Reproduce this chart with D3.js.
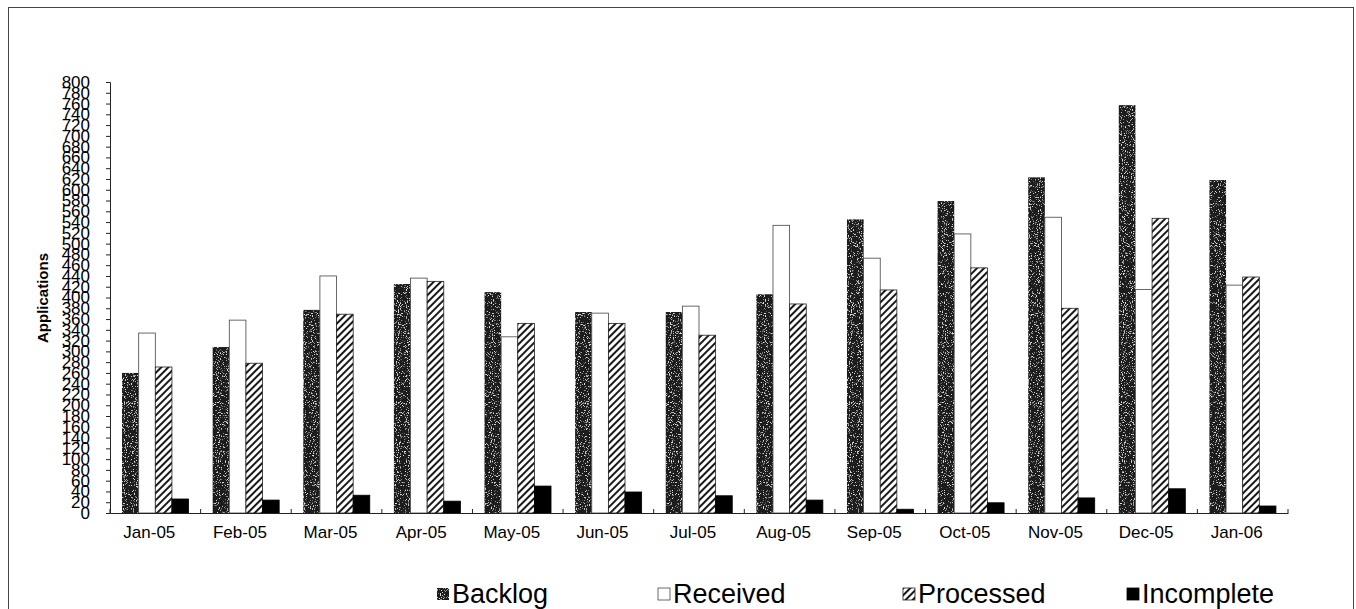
<!DOCTYPE html>
<html>
<head>
<meta charset="utf-8">
<script src="https://cdn.jsdelivr.net/npm/d3@7"></script>
<style>
  html, body { margin: 0; padding: 0; background: #fff; }
  svg { display: block; font-family: Arial, "Liberation Sans", sans-serif; }
</style>
</head>
<body>
<svg id="chart" width="1356" height="609"></svg>
<script>
// ---- data ----
const categories = ["Jan-05","Feb-05","Mar-05","Apr-05","May-05","Jun-05","Jul-05","Aug-05","Sep-05","Oct-05","Nov-05","Dec-05","Jan-06"];
const seriesNames = ["Backlog","Received","Processed","Incomplete"];
const backlog    = [260, 308, 377, 425, 410, 373, 373, 406, 545, 579, 623, 757, 618];
const received   = [334, 358, 440, 436, 327, 371, 384, 534, 473, 518, 549, 415, 423];
const processed  = [271, 278, 369, 430, 352, 352, 330, 388, 414, 455, 380, 547, 438];
const incomplete = [ 26,  24,  33,  22,  50,  39,  32,  24,   7,  19,  28,  45,  13];
const yTicks = d3.range(0, 801, 20);

const seriesValues = [backlog, received, processed, incomplete];

const svg = d3.select("#chart");
const defs = svg.append("defs");

// stipple (noise) filter for Backlog
const nf = defs.append("filter").attr("id","fNoise")
  .attr("x","0").attr("y","0").attr("width","100%").attr("height","100%");
nf.append("feTurbulence").attr("type","fractalNoise").attr("baseFrequency","0.9")
  .attr("numOctaves","2").attr("seed","4").attr("result","n");
nf.append("feColorMatrix").attr("in","n").attr("type","matrix")
  .attr("values","0 0 0 0 0.75  0 0 0 0 0.75  0 0 0 0 0.75  7 0 0 0 -4.1").attr("result","speck");
nf.append("feComposite").attr("in","speck").attr("in2","SourceGraphic").attr("operator","in").attr("result","sp2");
const nm = nf.append("feMerge");
nm.append("feMergeNode").attr("in","SourceGraphic");
nm.append("feMergeNode").attr("in","sp2");

// hatch pattern for Processed
const hatch = defs.append("pattern").attr("id","pProcessed").attr("patternUnits","userSpaceOnUse")
  .attr("width",5).attr("height",5).attr("patternTransform","rotate(45)");
hatch.append("rect").attr("width",5).attr("height",5).attr("fill","#fff");
hatch.append("line").attr("x1",1).attr("y1",0).attr("x2",1).attr("y2",5)
  .attr("stroke","#000").attr("stroke-width",1.8);

const fills = ["#1a1a1a","#ffffff","url(#pProcessed)","#000000"];
const strokes = ["none","#444","#222","#000"];
const filters = ["url(#fNoise)", null, null, null];

// frame
svg.append("rect").attr("x",8.5).attr("y",7.5).attr("width",1345).attr("height",640)
  .attr("fill","none").attr("stroke","#444").attr("stroke-width",1);

const x0 = d3.scaleBand().domain(categories).range([110, 1288]).paddingInner(0).paddingOuter(0);
const x1 = d3.scaleBand().domain(seriesNames)
  .range([x0.bandwidth()*0.133, x0.bandwidth()*0.867]).padding(0);
const y = d3.scaleLinear().domain([0, 800]).range([513, 82]);

// bars
const groups = svg.append("g").selectAll("g").data(categories).join("g")
  .attr("transform", d => `translate(${x0(d)},0)`);
groups.selectAll("rect").data((d,i) => seriesNames.map((s,k) => ({s, k, v: seriesValues[k][i]})))
  .join("rect")
  .attr("x", d => x1(d.s))
  .attr("width", x1.bandwidth())
  .attr("y", d => y(d.v))
  .attr("height", d => y(0) - y(d.v))
  .attr("fill", d => fills[d.k])
  .attr("stroke", d => strokes[d.k])
  .attr("stroke-width", 0.8)
  .attr("filter", d => filters[d.k]);

// y axis
const yAxis = d3.axisLeft(y).tickValues(yTicks).tickSize(4).tickPadding(16);
const gy = svg.append("g").attr("transform","translate(110,0)").call(yAxis);
gy.select(".domain").attr("stroke","#222");
gy.selectAll(".tick line").attr("stroke","#222");
gy.selectAll("text").attr("font-size",17).attr("fill","#000")
  .attr("font-family","Arial, 'Liberation Sans', sans-serif");

// x axis
const xAxis = d3.axisBottom(x0).tickSize(0).tickPadding(13);
const gx = svg.append("g").attr("transform","translate(0,513)").call(xAxis);
gx.select(".domain").attr("stroke","#222");
gx.selectAll(".tick text").attr("font-size",17).attr("fill","#000").attr("dx",-6)
  .attr("font-family","Arial, 'Liberation Sans', sans-serif");
// inside boundary ticks
const bounds = categories.map(c => x0(c)).concat([x0.range()[1]]);
svg.append("g").selectAll("line").data(bounds).join("line")
  .attr("x1", d => d).attr("x2", d => d)
  .attr("y1", 513).attr("y2", 509)
  .attr("stroke","#222").attr("stroke-width",1);

// y title
svg.append("text").attr("transform","translate(48,298) rotate(-90)")
  .attr("text-anchor","middle").attr("font-size",15).attr("font-weight","bold")
  .text("Applications");

// legend
const legendX = [437, 658, 903, 1127];
const lg = svg.append("g").selectAll("g").data(seriesNames).join("g")
  .attr("transform", (d,i) => `translate(${legendX[i]},594)`);
lg.append("rect").attr("x",0).attr("y",-6).attr("width",12).attr("height",12)
  .attr("fill", (d,i) => fills[i]).attr("stroke", (d,i) => i === 0 ? "#222" : strokes[i])
  .attr("stroke-width",0.8).attr("filter", (d,i) => filters[i]);
lg.append("text").attr("x",15).attr("y",9).attr("font-size",27).text(d => d);
</script>
</body>
</html>
